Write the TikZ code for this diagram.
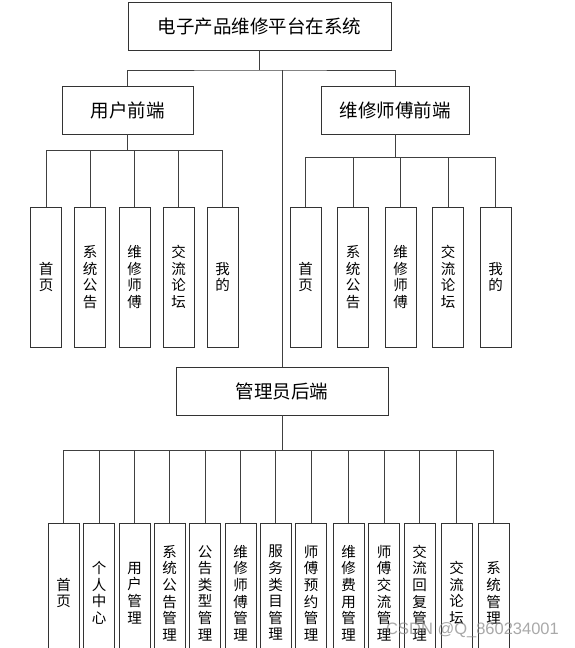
\documentclass[tikz,border=0pt]{standalone}
\usepackage{fontspec}
\setmainfont{Noto Sans CJK SC}
\newfontfamily\wmfont{Liberation Sans}
\begin{document}
\begin{tikzpicture}[x=1pt,y=-1pt,
  box/.style={draw=black!80,line width=0.9pt,fill=white,inner sep=0pt,align=center},
  bigbox/.style={box,minimum height=48pt,font=\fontsize{18.5}{21}\selectfont},
  leaf/.style={box,minimum width=31pt,minimum height=140pt,font=\fontsize{14.5}{16.6}\selectfont},
  conn/.style={draw=black!75,line width=0.8pt}]
\useasboundingbox (0,0) rectangle (575,648);
\clip (0,0) rectangle (575,648);
\coordinate (j0) at (259.5,70);
\coordinate (ju) at (127.5,150);
\coordinate (jt) at (395,157);
\coordinate (ja) at (282,450);
% main boxes
\node[bigbox,minimum width=263pt] (top) at (259.5,26) {电子产品维修平台在系统};
\node[bigbox,minimum width=131pt] (user) at (127.5,110) {用户前端};
\node[bigbox,minimum width=148pt] (tech) at (395,110) {维修师傅前端};
\node[bigbox,minimum width=212pt] (admin) at (282,391) {管理员后端};
% user leaves
\foreach \n/\x/\t in {u1/46/首\\页,u2/90/系\\统\\公\\告,u3/134.5/维\\修\\师\\傅,u4/178.5/交\\流\\论\\坛,u5/222.5/我\\的}{
  \node[leaf] (\n) at (\x,277) {\t};
}
% tech leaves
\foreach \n/\x/\t in {t1/305.5/首\\页,t2/353/系\\统\\公\\告,t3/400.5/维\\修\\师\\傅,t4/448/交\\流\\论\\坛,t5/495.5/我\\的}{
  \node[leaf] (\n) at (\x,277) {\t};
}
% admin leaves
\foreach \n/\x/\t in {a1/63.5/首\\页,a2/99/个\\人\\中\\心,a3/134.5/用\\户\\管\\理,a4/169.5/系\\统\\公\\告\\管\\理,a5/205/公\\告\\类\\型\\管\\理,a6/240.5/维\\修\\师\\傅\\管\\理,a7/275.5/服\\务\\类\\目\\管\\理,a8/311/师\\傅\\预\\约\\管\\理,a9/348.5/维\\修\\费\\用\\管\\理,a10/384/师\\傅\\交\\流\\管\\理,a11/419.5/交\\流\\回\\复\\管\\理,a12/456.5/交\\流\\论\\坛,a13/493.5/系\\统\\管\\理}{
  \node[leaf] (\n) at (\x,593) {\t};
}
% connectors
\draw[conn,line width=1.4pt] (top.south) -- (j0);
\draw[conn] (user.north) |- (j0) -| (tech.north);
\draw[conn] (admin.north) -- (admin.north |- j0);
\draw[conn] (user.south) -- (ju);
\foreach \n in {u1,u2,u3,u4,u5}{\draw[conn] (ju) -| (\n.north);}
\draw[conn] (tech.south) -- (jt);
\foreach \n in {t1,t2,t3,t4,t5}{\draw[conn] (jt) -| (\n.north);}
\draw[conn] (admin.south) -- (ja);
\foreach \n in {a1,a2,a3,a4,a5,a6,a7,a8,a9,a10,a11,a12,a13}{\draw[conn] (ja) -| (\n.north);}
% watermark
\node[anchor=west,inner sep=0pt,text=black!45,opacity=0.75,font=\wmfont\fontsize{16.5}{18}\selectfont] (wm) at (386,630) {CSDN @Q\_860234001};
\end{tikzpicture}
\end{document}
